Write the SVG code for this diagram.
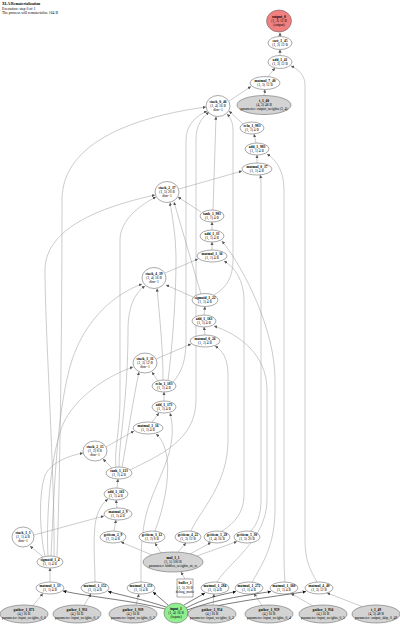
<svg xmlns="http://www.w3.org/2000/svg" width="400" height="625" viewBox="0 0 400 625">
<style>
text{font-family:"Liberation Serif","Times New Roman",serif;font-size:3.6px;text-anchor:middle;fill:#000}
.b{font-weight:bold}
.ttl{text-anchor:start;font-size:3.8px}
ellipse,rect{stroke:#555;stroke-width:0.5;fill:#fff}
.p ellipse{fill:#d3d3d3}
.in ellipse{fill:#90ee90}
.out ellipse{fill:#f08080}
#edges path{fill:none;stroke:#999;stroke-width:0.5;marker-end:url(#a)}
#edges path.k{stroke:#222;stroke-width:0.6;marker-end:url(#ak)}
</style>
<defs>
<marker id="a" viewBox="0 0 10 10" refX="10" refY="5" markerWidth="3.2" markerHeight="3.2" markerUnits="userSpaceOnUse" orient="auto"><path d="M0,0 L10,5 L0,10 z" fill="#555"/></marker>
<marker id="ak" viewBox="0 0 10 10" refX="10" refY="5" markerWidth="3.4" markerHeight="3.4" markerUnits="userSpaceOnUse" orient="auto"><path d="M0,0 L10,5 L0,10 z" fill="#111"/></marker>
</defs>
<rect x="0" y="0" width="400" height="625" style="fill:#fff;stroke:none"/>
<g id="title">
<text class="ttl b" x="2" y="5">XLA/Rematerialization</text>
<text class="ttl" x="2" y="9.5">Execution: step 0 of 1</text>
<text class="ttl" x="2" y="14">The process will rematerialize 164 B</text>
</g>
<g id="edges">
<path d="M280,36.5 L280,32.5"/>
<path d="M280,55.5 L280,49.5"/>
<path d="M268,76.6 L275,68"/>
<path d="M264,95.5 L265,89.5"/>
<path d="M229,101 L251,86.5"/>
<path d="M317,582 C310,570 305,560 305,540 L305,85 C305,75 298,69 291,66"/>
<path d="M243,124 L229,111"/>
<path d="M256,143 L254,134"/>
<path d="M257,163 L257,155"/>
<path d="M285,582 C284,570 284,560 284,540 L284,190 C284,172 277,160 267,154"/>
<path d="M179,189 L242,171"/>
<path d="M251,531 C257,524 261,515 261,500 L261,185 C261,181 261,178 260,175"/>
<path d="M212,230 L212,222"/>
<path d="M212,250 L212,242"/>
<path d="M252,582 C262,565 275,545 275,510 L275,380 C275,330 245,270 222,241"/>
<path d="M165,273 L198,259"/>
<path d="M222,531 C235,523 244,512 244,495 L244,300 C244,282 236,268 224,261"/>
<path d="M201,212 L178,197"/>
<path d="M213,210 L216,116.5"/>
<path d="M204,315 L205,306.5"/>
<path d="M205,335 L204,327"/>
<path d="M217,582 C226,565 267,540 267,500 L267,390 C267,355 240,335 214,326"/>
<path d="M156,359 L191,344"/>
<path d="M191,531 C200,510 228,485 228,440 L228,375 C228,358 222,350 215,346"/>
<path d="M193,297 L166,285"/>
<path d="M201,294 L174,202"/>
<path d="M214,295 C226,288 233,278 233,260 L233,130 C233,122 230,117 227,114"/>
<path d="M164,401 L164,392"/>
<path d="M152,422 L159,413"/>
<path d="M141,582 C141,565 140,540 146,515 C155,480 180,450 170,413"/>
<path d="M106,447 L134,431"/>
<path d="M155,531 C163,510 170,480 167,458 C165,445 161,438 156,434"/>
<path d="M158,381 L152,372"/>
<path d="M163,380 C163,350 160,320 157,288.5"/>
<path d="M168,380 C172,350 176,300 176,260 C176,235 172,215 170,202.5"/>
<path d="M173,382 C182,372 186,360 186,340 L186,140 C186,125 196,116 207,111"/>
<path d="M117,488 L118,479"/>
<path d="M117,508 L116,500"/>
<path d="M95,582 C95,565 93,545 95,525 C97,510 103,503 108,499"/>
<path d="M34,535 L104,516"/>
<path d="M114,531 L116,520"/>
<path d="M112,468 L103,459"/>
<path d="M122,467 C127,440 133,400 139,372"/>
<path d="M119,467 C119,440 128,400 128,330 C128,305 136,292 145,286"/>
<path d="M116,467 C114,450 120,430 120,400 L120,240 C120,220 140,205 156,197"/>
<path d="M130,470 C160,455 196,440 196,400 L196,140 C196,125 202,118 209,112"/>
<path d="M50,582 L50,568"/>
<path d="M43,557 L30,546"/>
<path d="M45,556 C40,535 38,495 45,475 C52,462 68,456 83,453"/>
<path d="M48,556 C46,520 50,450 65,420 C80,393 110,375 133,367"/>
<path d="M51,556 C54,500 56,410 72,360 C86,318 115,294 142,284"/>
<path d="M54,556 C55,480 45,330 45,270 C45,225 110,205 155,195"/>
<path d="M57,556 C60,480 62,330 62,200 C62,140 140,116 206,107"/>
<path d="M33,605.6 L43,593.5"/>
<path d="M84,605.5 L91,593.7"/>
<path d="M136,605 L139,594"/>
<path d="M213,605 L214,594"/>
<path d="M262,605.5 L254,593.5"/>
<path d="M313,606 L291,593.5"/>
<path d="M362,606.5 L327,593"/>
<path class="k" d="M165,609 C130,600 90,597 63,591"/>
<path class="k" d="M166,607 C145,600 125,596 108,591.5"/>
<path class="k" d="M168,605 L153,592"/>
<path class="k" d="M184,605 L205,593"/>
<path class="k" d="M186,608 C205,598 220,595 236,591.5"/>
<path class="k" d="M187,610 C220,598 250,595 271,591.5"/>
<path class="k" d="M188,612 C240,600 280,596 306,591.5"/>
<path d="M152,555 L121,542"/>
<path d="M161,553 L155,543"/>
<path d="M178,552 L186,543"/>
<path d="M190,554 L211,542.5"/>
<path d="M197,556 L237,541.5"/>
<path d="M185,579 L181,572"/>
</g>
<g id="output_0" class="out"><ellipse cx="279" cy="21" rx="12.5" ry="11"/><text class="b" x="279" y="18">output_0</text><text x="279" y="22">(1, 3) 12 B</text><text x="279" y="26">(output)</text></g>
<g id="cast_1_45"><ellipse cx="280" cy="43" rx="12" ry="6.5"/><text class="b" x="280" y="42">cast_1_45</text><text x="280" y="46.3">(1, 3) 12 B</text></g>
<g id="add_1_41"><ellipse cx="280" cy="62" rx="12" ry="6.5"/><text class="b" x="280" y="61">add_1_41</text><text x="280" y="65.3">(1, 3) 12 B</text></g>
<g id="matmul_7_40"><ellipse cx="265" cy="83" rx="15" ry="6.5"/><text class="b" x="265" y="82">matmul_7_40</text><text x="265" y="86.3">(1, 3) 12 B</text></g>
<g id="t_1_40" class="p"><ellipse cx="264" cy="105" rx="27" ry="9.5"/><text class="b" x="264" y="102">t_1_40</text><text x="264" y="106">(4, 3) 48 B</text><text x="264" y="110">parameter: output_weights (3, 4)</text></g>
<g id="stack_0_46"><ellipse cx="218" cy="106" rx="12" ry="10.5"/><text class="b" x="218" y="103">stack_0_46</text><text x="218" y="107">(1, 4) 16 B</text><text x="218" y="111">dim=1</text></g>
<g id="relu_1_983"><ellipse cx="252" cy="128" rx="12" ry="6"/><text class="b" x="252" y="127">relu_1_983</text><text x="252" y="131.3">(1, 1) 4 B</text></g>
<g id="add_1_983"><ellipse cx="257" cy="149" rx="12" ry="6"/><text class="b" x="257" y="148">add_1_983</text><text x="257" y="152.3">(1, 1) 4 B</text></g>
<g id="matmul_0_37"><ellipse cx="257" cy="169" rx="15" ry="6"/><text class="b" x="257" y="168">matmul_0_37</text><text x="257" y="172.3">(1, 1) 4 B</text></g>
<g id="stack_2_37"><ellipse cx="167" cy="192" rx="12" ry="10.5"/><text class="b" x="167" y="189">stack_2_37</text><text x="167" y="193">(1, 5) 20 B</text><text x="167" y="197">dim=1</text></g>
<g id="tanh_1_983"><ellipse cx="212" cy="216" rx="12" ry="6"/><text class="b" x="212" y="215">tanh_1_983</text><text x="212" y="219.3">(1, 1) 4 B</text></g>
<g id="add_1_33"><ellipse cx="212" cy="236" rx="12" ry="6"/><text class="b" x="212" y="235">add_1_33</text><text x="212" y="239.3">(1, 1) 4 B</text></g>
<g id="matmul_1_36"><ellipse cx="212" cy="256" rx="15" ry="6"/><text class="b" x="212" y="255">matmul_1_36</text><text x="212" y="259.3">(1, 1) 4 B</text></g>
<g id="stack_4_39"><ellipse cx="154" cy="278" rx="12" ry="10.5"/><text class="b" x="154" y="275">stack_4_39</text><text x="154" y="279">(1, 4) 16 B</text><text x="154" y="283">dim=1</text></g>
<g id="sigmoid_1_22"><ellipse cx="205" cy="300" rx="13" ry="6.5"/><text class="b" x="205" y="299">sigmoid_1_22</text><text x="205" y="303.3">(1, 1) 4 B</text></g>
<g id="add_1_163"><ellipse cx="204" cy="321" rx="12" ry="6"/><text class="b" x="204" y="320">add_1_163</text><text x="204" y="324.3">(1, 1) 4 B</text></g>
<g id="matmul_0_26"><ellipse cx="205" cy="341" rx="15" ry="6"/><text class="b" x="205" y="340">matmul_0_26</text><text x="205" y="344.3">(1, 1) 4 B</text></g>
<g id="stack_3_31"><ellipse cx="145" cy="363" rx="12" ry="10"/><text class="b" x="145" y="360">stack_3_31</text><text x="145" y="364">(1, 3) 12 B</text><text x="145" y="368">dim=1</text></g>
<g id="relu_1_183"><ellipse cx="164" cy="386" rx="12" ry="6"/><text class="b" x="164" y="385">relu_1_183</text><text x="164" y="389.3">(1, 1) 4 B</text></g>
<g id="add_1_173"><ellipse cx="164" cy="407" rx="12" ry="6"/><text class="b" x="164" y="406">add_1_173</text><text x="164" y="410.3">(1, 1) 4 B</text></g>
<g id="matmul_1_16"><ellipse cx="148" cy="428" rx="15" ry="6"/><text class="b" x="148" y="427">matmul_1_16</text><text x="148" y="431.3">(1, 1) 4 B</text></g>
<g id="stack_2_15"><ellipse cx="95" cy="451" rx="12" ry="10"/><text class="b" x="95" y="448">stack_2_15</text><text x="95" y="452">(1, 2) 8 B</text><text x="95" y="456">dim=1</text></g>
<g id="tanh_1_113"><ellipse cx="119" cy="473" rx="13" ry="6"/><text class="b" x="119" y="472">tanh_1_113</text><text x="119" y="476.3">(1, 1) 4 B</text></g>
<g id="add_1_161"><ellipse cx="116" cy="494" rx="12" ry="6"/><text class="b" x="116" y="493">add_1_161</text><text x="116" y="497.3">(1, 1) 4 B</text></g>
<g id="matmul_2_9"><ellipse cx="118" cy="514" rx="14" ry="6"/><text class="b" x="118" y="513">matmul_2_9</text><text x="118" y="517.3">(1, 1) 4 B</text></g>
<g id="stack_1_3"><ellipse cx="23" cy="537" rx="11" ry="10"/><text class="b" x="23" y="534">stack_1_3</text><text x="23" y="538">(1, 1) 4 B</text><text x="23" y="542">dim=1</text></g>
<g id="sigmoid_1_4"><ellipse cx="50" cy="562" rx="13" ry="6"/><text class="b" x="50" y="561">sigmoid_1_4</text><text x="50" y="565.3">(1, 1) 4 B</text></g>
<g id="getitem_2_9"><ellipse cx="113" cy="537" rx="13" ry="6"/><text class="b" x="113" y="536">getitem_2_9</text><text x="113" y="540.3">(1, 1) 4 B</text></g>
<g id="getitem_3_12"><ellipse cx="152" cy="537" rx="13" ry="6"/><text class="b" x="152" y="536">getitem_3_12</text><text x="152" y="540.3">(1, 2) 8 B</text></g>
<g id="getitem_4_22"><ellipse cx="188" cy="537" rx="13" ry="6"/><text class="b" x="188" y="536">getitem_4_22</text><text x="188" y="540.3">(1, 3) 12 B</text></g>
<g id="getitem_5_28"><ellipse cx="217" cy="537" rx="13" ry="6"/><text class="b" x="217" y="536">getitem_5_28</text><text x="217" y="540.3">(1, 4) 16 B</text></g>
<g id="getitem_5_30"><ellipse cx="247" cy="537" rx="13" ry="6"/><text class="b" x="247" y="536">getitem_5_30</text><text x="247" y="540.3">(1, 5) 20 B</text></g>
<g id="mul_1_1" class="p"><ellipse cx="173" cy="562" rx="30" ry="10"/><text class="b" x="173" y="559">mul_1_1</text><text x="173" y="563">(5, 5) 100 B</text><text x="173" y="567">parameter: hidden_weights_m_w</text></g>
<g id="buffer_1"><rect x="177" y="579" width="16" height="18"/><text class="b" x="185" y="584">buffer_1</text><text x="185" y="588.5">(1, 5) 20 B</text><text x="185" y="593">debug_mode</text></g>
<g id="matmul_1_13"><ellipse cx="50" cy="588" rx="14" ry="6"/><text class="b" x="50" y="587">matmul_1_13</text><text x="50" y="591.3">(1, 1) 4 B</text></g>
<g id="matmul_1_152"><ellipse cx="95" cy="588" rx="14" ry="6"/><text class="b" x="95" y="587">matmul_1_152</text><text x="95" y="591.3">(1, 1) 4 B</text></g>
<g id="matmul_1_153"><ellipse cx="141" cy="588" rx="14" ry="6"/><text class="b" x="141" y="587">matmul_1_153</text><text x="141" y="591.3">(1, 1) 4 B</text></g>
<g id="matmul_1_284"><ellipse cx="215" cy="588" rx="14" ry="6"/><text class="b" x="215" y="587">matmul_1_284</text><text x="215" y="591.3">(1, 1) 4 B</text></g>
<g id="matmul_1_272"><ellipse cx="249" cy="588" rx="14" ry="6"/><text class="b" x="249" y="587">matmul_1_272</text><text x="249" y="591.3">(1, 1) 4 B</text></g>
<g id="matmul_1_360"><ellipse cx="284" cy="588" rx="14" ry="6"/><text class="b" x="284" y="587">matmul_1_360</text><text x="284" y="591.3">(1, 1) 4 B</text></g>
<g id="matmul_4_40"><ellipse cx="319" cy="588" rx="14" ry="6"/><text class="b" x="319" y="587">matmul_4_40</text><text x="319" y="591.3">(1, 3) 12 B</text></g>
<g id="gather_1_871" class="p"><ellipse cx="24" cy="614" rx="24" ry="9"/><text class="b" x="24" y="611">gather_1_871</text><text x="24" y="615">(4,) 16 B</text><text x="24" y="619">parameter: input_weights_0_0</text></g>
<g id="gather_1_931" class="p"><ellipse cx="77" cy="614" rx="24" ry="9"/><text class="b" x="77" y="611">gather_1_931</text><text x="77" y="615">(4,) 16 B</text><text x="77" y="619">parameter: input_weights_0_1</text></g>
<g id="gather_1_939" class="p"><ellipse cx="133" cy="614" rx="24" ry="9"/><text class="b" x="133" y="611">gather_1_939</text><text x="133" y="615">(4,) 16 B</text><text x="133" y="619">parameter: input_weights_0_2</text></g>
<g id="input_1" class="in"><ellipse cx="176" cy="613" rx="12" ry="10"/><text class="b" x="176" y="610">input_1</text><text x="176" y="614">(1, 4) 16 B</text><text x="176" y="618">(inputs)</text></g>
<g id="gather_1_954" class="p"><ellipse cx="212" cy="614" rx="24" ry="9"/><text class="b" x="212" y="611">gather_1_954</text><text x="212" y="615">(4,) 16 B</text><text x="212" y="619">parameter: input_weights_0_3</text></g>
<g id="gather_1_959" class="p"><ellipse cx="269" cy="614" rx="24" ry="9"/><text class="b" x="269" y="611">gather_1_959</text><text x="269" y="615">(4,) 16 B</text><text x="269" y="619">parameter: input_weights_0_4</text></g>
<g id="gather_1_934" class="p"><ellipse cx="323" cy="614" rx="24" ry="9"/><text class="b" x="323" y="611">gather_1_934</text><text x="323" y="615">(4,) 16 B</text><text x="323" y="619">parameter: input_weights_0_5</text></g>
<g id="t_1_49" class="p"><ellipse cx="376" cy="614" rx="24" ry="9"/><text class="b" x="376" y="611">t_1_49</text><text x="376" y="615">(4, 3) 48 B</text><text x="376" y="619">parameter: output_skip_0_49</text></g>
</svg>
